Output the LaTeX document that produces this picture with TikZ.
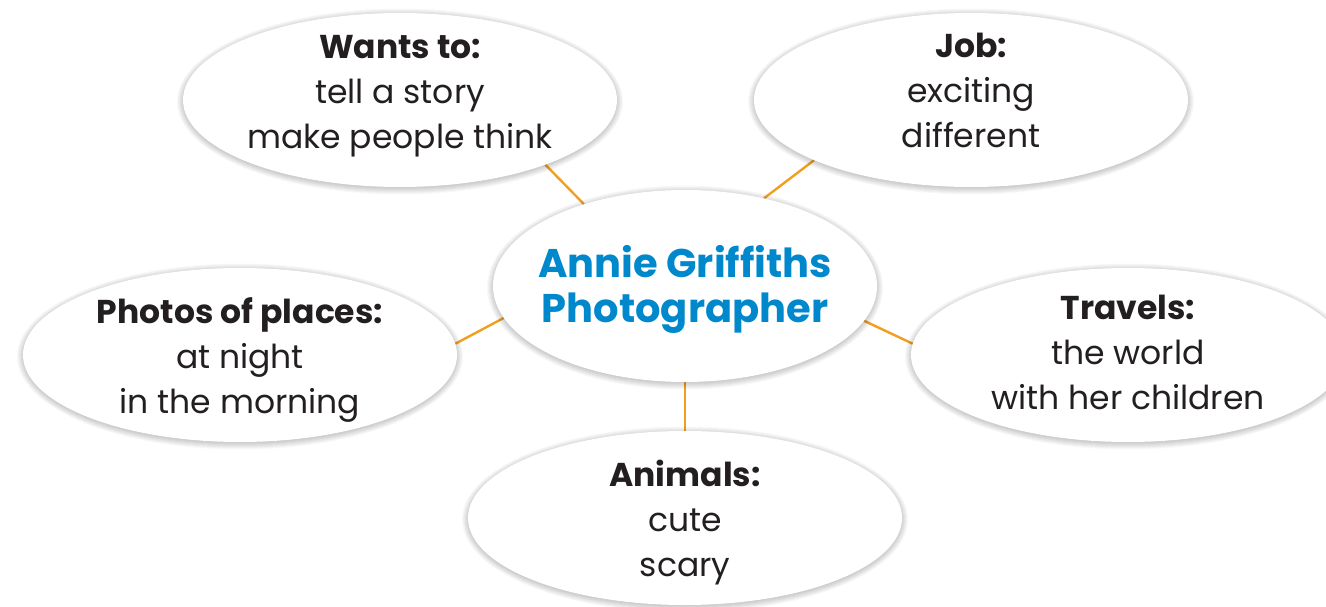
\documentclass[tikz,border=0pt]{standalone}
\usepackage{fontspec}
\setmainfont{Poppins}
\usetikzlibrary{shapes.geometric}
\definecolor{linkorange}{HTML}{F0A01E}
\definecolor{titleblue}{HTML}{0088CC}
\definecolor{inkdark}{HTML}{231F20}
\pgfdeclarelayer{bg}
\pgfdeclarelayer{shade}
\pgfsetlayers{bg,shade,main}
\newcommand\bubbleshade[4]{%
  \begin{pgfonlayer}{shade}
  \foreach \k in {0,...,7} {
    \fill[black, opacity=0.028] (#1,#2+1.5) ellipse [x radius={#3+\k}, y radius={#4+\k}];
  }
  \end{pgfonlayer}}
\tikzset{
  bubble/.style={ellipse, fill=white, inner sep=0pt, minimum width=434pt, minimum height=174pt},
  hub/.style={bubble, minimum width=384pt, minimum height=192pt},
  bubbletext/.style={align=center, inner sep=0pt, text=inkdark, font=\fontsize{33}{45}\selectfont},
  hubtext/.style={bubbletext, text=titleblue, font=\fontsize{40}{45}\selectfont\bfseries},
  link/.style={draw=linkorange, line width=2.4pt}
}
\begin{document}
\begin{tikzpicture}[x=1pt,y=-1pt]
\useasboundingbox (0,0) rectangle (1326,607);
\begin{pgfonlayer}{bg}
\fill[white] (0,0) rectangle (1326,607);
\end{pgfonlayer}
\bubbleshade{400}{100}{216}{86}
\bubbleshade{971}{100}{216}{86}
\bubbleshade{240}{355}{216}{86}
\bubbleshade{1128}{355}{216}{86}
\bubbleshade{685}{518}{216}{86}
\bubbleshade{685}{286}{191}{95}
\node[bubble] (wants) at (400,100) {};
\node[bubble] (job) at (971,100) {};
\node[bubble] (photos) at (240,355) {};
\node[bubble] (travels) at (1128,355) {};
\node[bubble] (animals) at (685,518) {};
\node[hub] (hub) at (685,286) {};
\node[bubbletext] (wantstext) at ([yshift=3.5pt]wants.center) {\textbf{Wants to:}\\tell a story\\make people think};
\node[bubbletext] (jobtext) at ([yshift=10pt]job.center) {\textbf{Job:}\\exciting\\different};
\node[bubbletext] (photostext) at ([yshift=-5pt]photos.center) {\textbf{Photos of places:}\\at night\\in the morning};
\node[bubbletext] (travelstext) at ([yshift=3pt]travels.center) {\textbf{Travels:}\\the world\\with her children};
\node[bubbletext] (animalstext) at ([yshift=-5pt]animals.center) {\textbf{Animals:}\\cute\\scary};
\node[hubtext] (hubtext) at ([yshift=-3pt]hub.center) {Annie Griffiths\\Photographer};
\begin{pgfonlayer}{bg}
\draw[link] (hub.141) -- (wants.-24);
\draw[link] (hub.48) -- (job.-159);
\draw[link] (hub.190) -- (photos.3);
\draw[link] (hub.-11) -- (travels.177);
\draw[link] (hub.-90) -- (animals.90);
\end{pgfonlayer}
\end{tikzpicture}
\end{document}
